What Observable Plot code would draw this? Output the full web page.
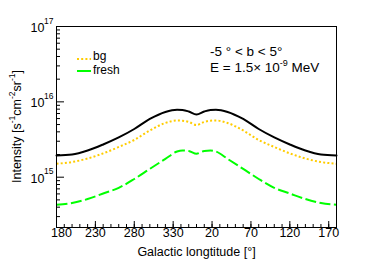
<!DOCTYPE html>
<html>
<head>
<meta charset="utf-8">
<script src="https://cdn.jsdelivr.net/npm/d3@7"></script>
<script src="https://cdn.jsdelivr.net/npm/@observablehq/plot@0.6"></script>
<style>
  html, body { margin: 0; padding: 0; background: #fff; }
  #chart svg { display: block; font-family: "Liberation Sans", Arial, Helvetica, sans-serif; }
</style>
</head>
<body>
<div id="chart"></div>
<script>
// Galactic longitude, unwrapped so the axis runs 180 -> 360(=0) -> 540(=180)
const lon = [180, 200, 220, 240, 260, 280, 300, 320, 335, 342, 350, 360,
             370, 378, 385, 400, 420, 440, 460, 480, 500, 520, 540];
// Intensity [s^-1 cm^-2 sr^-1]
const total = [1.94e15, 2.00e15, 2.26e15, 2.72e15, 3.37e15, 4.36e15, 5.93e15, 7.35e15, 7.86e15, 7.80e15, 7.46e15, 6.81e15,
               7.46e15, 7.80e15, 7.86e15, 7.35e15, 5.93e15, 4.36e15, 3.37e15, 2.72e15, 2.26e15, 2.00e15, 1.94e15];
const bg    = [1.51e15, 1.59e15, 1.77e15, 2.07e15, 2.52e15, 3.12e15, 4.17e15, 5.25e15, 5.66e15, 5.62e15, 5.41e15, 4.93e15,
               5.41e15, 5.62e15, 5.66e15, 5.25e15, 4.17e15, 3.12e15, 2.52e15, 2.07e15, 1.77e15, 1.59e15, 1.51e15];
const fresh = [4.30e14, 4.54e14, 5.13e14, 6.08e14, 7.22e14, 9.47e14, 1.29e15, 1.75e15, 2.19e15, 2.26e15, 2.23e15, 2.05e15,
               2.23e15, 2.26e15, 2.19e15, 1.75e15, 1.29e15, 9.47e14, 7.22e14, 6.08e14, 5.13e14, 4.54e14, 4.30e14];

const xTicks = [180, 230, 280, 330, 380, 430, 480, 530];
const xTickLabels = ["180", "230", "280", "330", "20", "70", "120", "170"];
const yTicks = [1e15, 1e16, 1e17];
const yTickExponents = ["15", "16", "17"];

const xMinor = d3.range(180, 541, 10);
const yMinor = [];
for (const e of [14, 15, 16]) for (let m = 2; m <= 9; m++) { const v = m * Math.pow(10, e); if (v > 2.15e14) yMinor.push(v); }

const rows = lon.map((l, i) => ({lon: l, total: total[i], bg: bg[i], fresh: fresh[i]}));

const W = 374, H = 268, mL = 56, mR = 38, mT = 26, mB = 41;
const fw = W - mL - mR, fh = H - mT - mB;
const font = 12.5;
const dotDash = "2,2.2";
const longDash = "11,3.5";

const chart = Plot.plot({
  width: W, height: H,
  marginLeft: mL, marginRight: mR, marginTop: mT, marginBottom: mB,
  x: {domain: [180, 540], axis: null},
  y: {type: "log", domain: [2.15e14, 1e17], axis: null},
  style: {fontFamily: '"Liberation Sans", Arial, Helvetica, sans-serif', background: "#fff"},
  marks: [
    Plot.line(rows, {x: "lon", y: "bg", stroke: "#ffcc00", strokeWidth: 2, strokeDasharray: dotDash, strokeLinecap: "butt", curve: "monotone-x"}),
    Plot.line(rows, {x: "lon", y: "fresh", stroke: "#00ff00", strokeWidth: 2, strokeDasharray: longDash, strokeLinecap: "butt", curve: "monotone-x"}),
    Plot.line(rows, {x: "lon", y: "total", stroke: "#000", strokeWidth: 2, curve: "monotone-x"}),
    // inward ticks
    Plot.tickX(xMinor, {x: d => d, insetTop: fh - 3, stroke: "#000", strokeWidth: 1}),
    Plot.tickX(xTicks, {x: d => d, insetTop: fh - 6, stroke: "#000", strokeWidth: 1}),
    Plot.tickY(yMinor, {y: d => d, insetRight: fw - 4, stroke: "#000", strokeWidth: 1}),
    Plot.tickY(yTicks, {y: d => d, insetRight: fw - 8, stroke: "#000", strokeWidth: 1}),
    Plot.frame({stroke: "#000", strokeWidth: 1}),
    // x tick labels
    Plot.text(xTicks.slice(0, 1), {x: d => d, text: () => xTickLabels[0], frameAnchor: "bottom", dy: 9, dx: 5, fontSize: font, fill: "#000"}),
    Plot.text(xTicks.slice(1), {x: d => d, text: (d, i) => xTickLabels[i + 1], frameAnchor: "bottom", dy: 9, fontSize: font, fill: "#000"}),
    // y tick labels 10^n
    Plot.text(yTicks, {y: d => d, text: () => "10", frameAnchor: "left", dx: -12, dy: 1.5, textAnchor: "end", fontSize: font, fill: "#000"}),
    Plot.text(yTicks, {y: d => d, text: (d, i) => yTickExponents[i], frameAnchor: "left", dx: -3, dy: -5.5, textAnchor: "end", fontSize: 8.5, fill: "#000"}),
    // x axis title
    Plot.text(["Galactic longtitude [°]"], {text: d => d, frameAnchor: "bottom", dy: 28, fontSize: font, fill: "#000"})
  ]
});

document.getElementById("chart").appendChild(chart);
const svg = d3.select(chart);

// y axis title with superscripts
const yt = svg.append("text")
  .attr("transform", `translate(18,${mT + fh / 2}) rotate(-90)`)
  .attr("text-anchor", "middle").attr("dominant-baseline", "middle")
  .attr("font-size", font).attr("fill", "#000");
yt.append("tspan").text("Intensity [s");
yt.append("tspan").attr("font-size", 8.5).attr("dy", -5).text("-1");
yt.append("tspan").attr("dy", 5).text("cm");
yt.append("tspan").attr("font-size", 8.5).attr("dy", -5).text("-2");
yt.append("tspan").attr("dy", 5).text("sr");
yt.append("tspan").attr("font-size", 8.5).attr("dy", -5).text("-1");
yt.append("tspan").attr("dy", 5).text("]");

// annotation
svg.append("text").attr("x", 210).attr("y", 56).attr("text-anchor", "start").attr("font-size", 13.5).attr("fill", "#000")
  .text("-5 ° < b < 5°");
const e2 = svg.append("text").attr("x", 210).attr("y", 72).attr("text-anchor", "start").attr("font-size", 13.5).attr("fill", "#000");
e2.append("tspan").text("E = 1.5× 10");
e2.append("tspan").attr("font-size", 9).attr("dy", -6).text("-9");
e2.append("tspan").attr("dy", 6).text(" MeV");

// legend
const legend = [
  {label: "bg", color: "#ffcc00", dash: dotDash, y: 59, ty: 60},
  {label: "fresh", color: "#00ff00", dash: null, y: 71, ty: 73.5}
];
for (const l of legend) {
  svg.append("line").attr("x1", 77).attr("x2", 91).attr("y1", l.y).attr("y2", l.y)
    .attr("stroke", l.color).attr("stroke-width", 2).attr("stroke-dasharray", l.dash);
  svg.append("text").attr("x", 93).attr("y", l.ty).attr("text-anchor", "start")
    .attr("font-size", 12).attr("fill", "#000").text(l.label);
}
</script>
</body>
</html>
